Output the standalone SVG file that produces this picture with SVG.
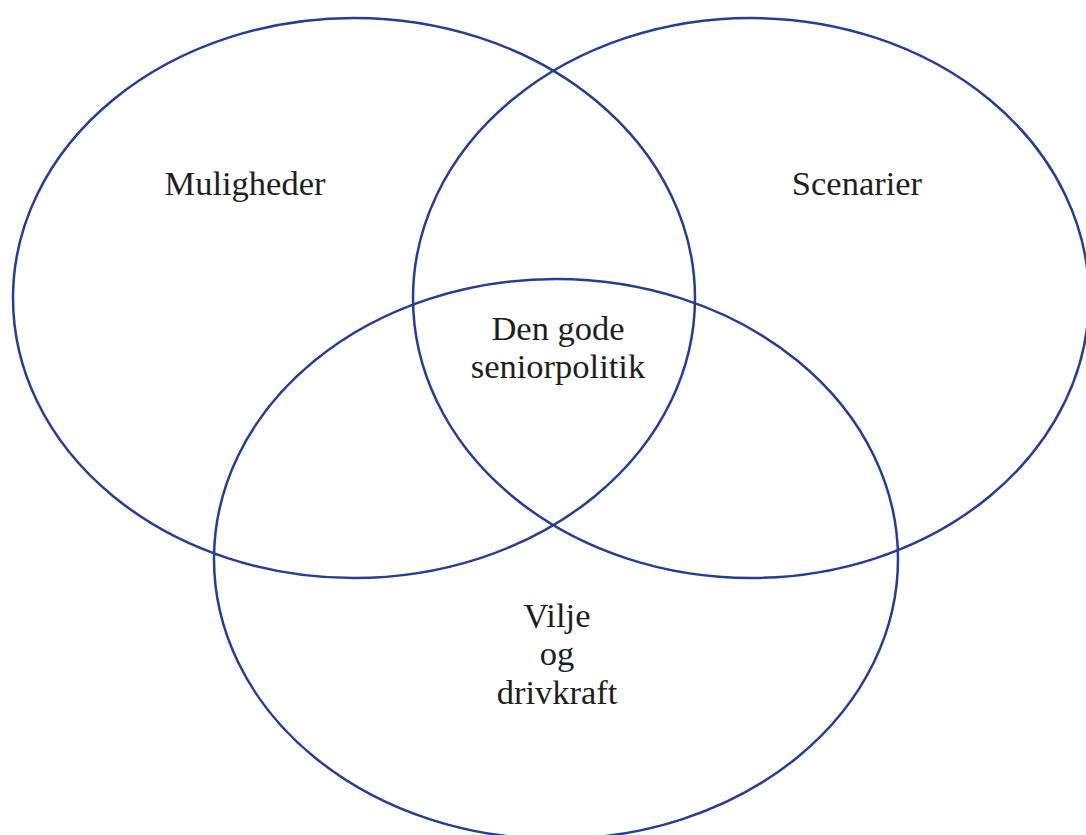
<svg xmlns="http://www.w3.org/2000/svg" width="1086" height="835" viewBox="0 0 1086 835">
<style>
.c{fill:none;stroke:#243e93;stroke-width:2.5}
.t{font-family:"Liberation Serif","DejaVu Serif",serif;font-size:34.5px;fill:#1e1e1e;text-anchor:middle}
</style>
<rect width="1086" height="835" fill="#fff"/>
<g id="connectors"></g>
<g id="muligheder"><ellipse class="c" cx="354" cy="298" rx="341" ry="280"/><text class="t" x="245" y="195">Muligheder</text></g>
<g id="scenarier"><ellipse class="c" cx="751" cy="298" rx="338" ry="280"/><text class="t" x="857" y="195">Scenarier</text></g>
<g id="vilje"><ellipse class="c" cx="556" cy="559" rx="342" ry="280"/><text class="t" x="557" y="627">Vilje</text><text class="t" x="557" y="665">og</text><text class="t" x="557" y="704">drivkraft</text></g>
<g id="center"><text class="t" x="558" y="340">Den gode</text><text class="t" x="558" y="378">seniorpolitik</text></g>
</svg>
